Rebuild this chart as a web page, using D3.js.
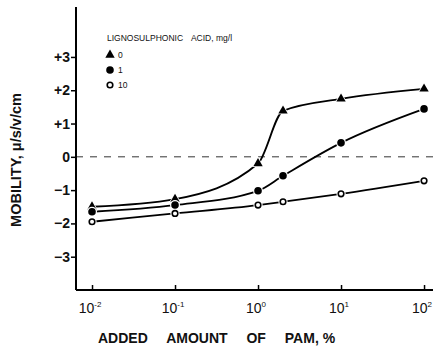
<!DOCTYPE html>
<html>
<head>
<meta charset="utf-8">
<script src="https://cdn.jsdelivr.net/npm/d3@7"></script>
<style>
  html, body { margin: 0; padding: 0; background: #fff; }
  svg text { font-family: "Liberation Sans", Arial, Helvetica, sans-serif; fill: #111; }
</style>
</head>
<body>
<svg id="chart" width="437" height="346"></svg>
<script>
// Amount of polyacrylamide added (%)
const pamAmount = [0.01, 0.1, 1, 2, 10, 100];
// Electrophoretic mobility (µ/s/v/cm) for each lignosulphonic acid dose
const mobility0 = [-1.5, -1.27, -0.2, 1.38, 1.74, 2.04];
const mobility1 = [-1.65, -1.45, -1.02, -0.57, 0.42, 1.44];
const mobility10 = [-1.95, -1.7, -1.45, -1.35, -1.11, -0.72];
const seriesLabels = ["0", "1", "10"];
const seriesMarkers = ["triangle", "dot", "ring"];
const yTickValues = [-3, -2, -1, 0, 1, 2, 3];
const yTickLabels = ["\u22123", "\u22122", "\u22121", "0", "+1", "+2", "+3"];
const xTickValues = [0.01, 0.1, 1, 10, 100];
const xTickExponents = ["-2", "-1", "0", "1", "2"];

const svg = d3.select("#chart");

const x = d3.scaleLog()
  .domain([Math.pow(10, -2.193), Math.pow(10, 2.108)])
  .range([76, 433]);
const y = d3.scaleLinear().domain([-4, 4.5]).range([290, 7]);

// Zero reference line
svg.append("line")
  .attr("x1", x.range()[0]).attr("x2", x.range()[1])
  .attr("y1", y(0)).attr("y2", y(0))
  .attr("stroke", "#333").attr("stroke-width", 1)
  .attr("stroke-dasharray", "7,7");

// Y axis
const yAxis = d3.axisLeft(y)
  .tickValues(yTickValues)
  .tickSize(5)
  .tickPadding(1)
  .tickFormat((d, i) => yTickLabels[i]);
const gy = svg.append("g").attr("transform", `translate(${x.range()[0]},0)`).call(yAxis);
gy.select(".domain").attr("stroke", "#000").attr("stroke-width", 2).attr("d", `M0,${y.range()[1]}V${y.range()[0]}`);
gy.selectAll(".tick line").attr("stroke", "#000").attr("stroke-width", 1.5);
gy.selectAll(".tick text")
  .attr("font-size", 14).attr("font-weight", "bold")
  .attr("font-family", "Liberation Sans, Arial, sans-serif").attr("fill", "#111");

// X axis (ticks point inward)
const xAxis = d3.axisBottom(x)
  .tickValues(xTickValues)
  .tickSize(-5)
  .tickFormat("");
const gx = svg.append("g").attr("transform", `translate(0,${y.range()[0]})`).call(xAxis);
gx.select(".domain").attr("stroke", "#000").attr("stroke-width", 2).attr("d", `M${x.range()[0]},0H${x.range()[1]}`);
gx.selectAll(".tick line").attr("stroke", "#000").attr("stroke-width", 1.5);

// Power-of-ten tick labels
const xl = svg.append("g").selectAll("text").data(xTickValues).join("text")
  .attr("x", d => x(d) - 2)
  .attr("y", 313)
  .attr("text-anchor", "middle")
  .attr("font-size", 14);
xl.append("tspan").text("10");
xl.append("tspan").attr("dy", -6).attr("font-size", 8).text((d, i) => xTickExponents[i]);

// Axis titles
const xTitle = svg.append("text")
  .attr("x", 98).attr("y", 343)
  .attr("font-size", 14).attr("font-weight", "bold");
xTitle.append("tspan").attr("word-spacing", 15).text("ADDED AMOUNT OF PAM,");
xTitle.append("tspan").text(" %");

svg.append("text")
  .attr("transform", "translate(21,160) rotate(-90)")
  .attr("text-anchor", "middle")
  .attr("font-size", 14.5).attr("font-weight", "bold")
  .text("MOBILITY, \u03bc/s/v/cm");

// Curves
const series = [mobility0, mobility1, mobility10];
const line = d3.line()
  .x(d => x(d[0])).y(d => y(d[1]))
  .curve(d3.curveMonotoneX);

series.forEach(vals => {
  const pts = pamAmount.map((p, i) => [p, vals[i]]);
  svg.append("path")
    .attr("d", line(pts))
    .attr("fill", "none")
    .attr("stroke", "#000")
    .attr("stroke-width", 1.8);
});

// Marker drawing
function drawMarker(g, type, cx, cy) {
  if (type === "triangle") {
    g.append("path")
      .attr("d", d3.symbol().type(d3.symbolTriangle).size(38)())
      .attr("transform", `translate(${cx},${cy})`)
      .attr("fill", "#000").attr("stroke", "#fff").attr("stroke-width", 1.5)
      .attr("paint-order", "stroke");
  } else if (type === "dot") {
    g.append("circle").attr("cx", cx).attr("cy", cy).attr("r", 5)
      .attr("fill", "#fff");
    g.append("circle").attr("cx", cx).attr("cy", cy).attr("r", 3.8)
      .attr("fill", "#000");
  } else {
    g.append("circle").attr("cx", cx).attr("cy", cy).attr("r", 4.6)
      .attr("fill", "#fff");
    g.append("circle").attr("cx", cx).attr("cy", cy).attr("r", 2.8)
      .attr("fill", "#fff").attr("stroke", "#000").attr("stroke-width", 1.6);
  }
}

const markers = svg.append("g");
series.forEach((vals, s) => {
  pamAmount.forEach((p, i) => drawMarker(markers, seriesMarkers[s], x(p), y(vals[i])));
});

// Legend
const legend = svg.append("g");
const legendTitle = legend.append("text")
  .attr("x", 107).attr("y", 41)
  .attr("font-size", 8.5)
  .attr("fill", "#222");
legendTitle.append("tspan").attr("word-spacing", 6).text("LIGNOSULPHONIC ACID,");
legendTitle.append("tspan").text(" mg/l");
const legendY = [55, 70, 85];
seriesLabels.forEach((lab, s) => {
  drawMarker(legend, seriesMarkers[s], 110, legendY[s]);
  legend.append("text")
    .attr("x", 118).attr("y", legendY[s] + 3)
    .attr("font-size", 8.5).attr("fill", "#222")
    .text(lab);
});
</script>
</body>
</html>
